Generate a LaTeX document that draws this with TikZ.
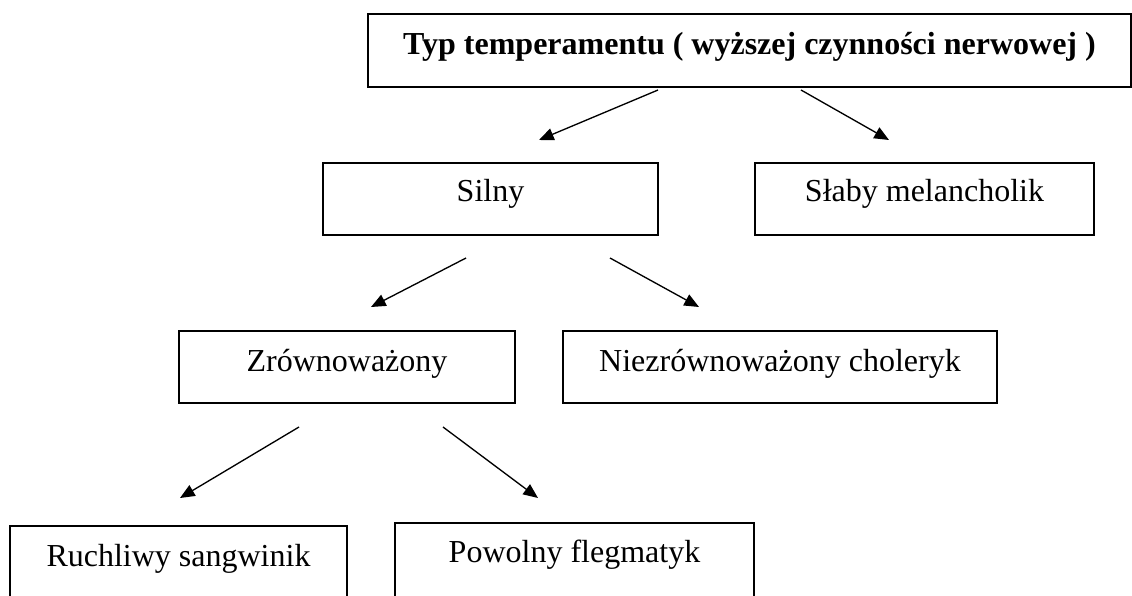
\documentclass[tikz,border=0pt]{standalone}
\usepackage{fontspec}
\setmainfont{Liberation Serif}
\usetikzlibrary{arrows.meta}
\begin{document}
\begin{tikzpicture}[x=0.375pt,y=-0.375pt,
  box/.style={draw=black,line width=0.75pt,rectangle,inner sep=0pt,
    font=\fontsize{12pt}{14pt}\selectfont,align=center},
  arr/.style={line width=0.5pt,-{Triangle[length=5.5pt,width=4.6pt]}}]
\clip (0,0) rectangle (1132,595);
% boxes
\node[box,font=\fontsize{12pt}{14pt}\selectfont\bfseries,minimum width=286.125pt,minimum height=27.375pt,text height=9pt,text depth=5.625pt]
  (typ) at (749.5,50.5) {Typ temperamentu ( wyższej czynności nerwowej )};
\node[box,minimum width=125.625pt,minimum height=27pt,text height=8pt,text depth=6.5pt]
  (silny) at (490.5,199) {Silny};
\node[box,minimum width=127.125pt,minimum height=27pt,text height=8pt,text depth=6.5pt]
  (slaby) at (924.5,199) {Słaby melancholik};
\node[box,minimum width=126pt,minimum height=27pt,text height=8pt,text depth=5pt]
  (zrown) at (347,367) {Zrównoważony};
\node[box,minimum width=162.75pt,minimum height=27pt,text height=8pt,text depth=5pt]
  (niez) at (780,367) {Niezrównoważony choleryk};
\node[box,minimum width=126.375pt,minimum height=28.5pt,text height=7.5pt,text depth=6pt]
  (ruch) at (178.5,564) {Ruchliwy sangwinik};
\node[box,minimum width=134.625pt,minimum height=28.5pt,text height=7pt,text depth=6.25pt]
  (powol) at (574.5,561) {Powolny flegmatyk};
% arrow end points
\coordinate (a1s) at (658,90);  \coordinate (a1e) at (539,140);
\coordinate (a2s) at (801,90);  \coordinate (a2e) at (889,140);
\coordinate (a3s) at (466,258); \coordinate (a3e) at (371,307);
\coordinate (a4s) at (610,258); \coordinate (a4e) at (699,307);
\coordinate (a5s) at (299,427); \coordinate (a5e) at (180,498);
\coordinate (a6s) at (443,427); \coordinate (a6e) at (538,498);
\draw[arr] (a1s) -- (a1e);
\draw[arr] (a2s) -- (a2e);
\draw[arr] (a3s) -- (a3e);
\draw[arr] (a4s) -- (a4e);
\draw[arr] (a5s) -- (a5e);
\draw[arr] (a6s) -- (a6e);
\end{tikzpicture}
\end{document}
